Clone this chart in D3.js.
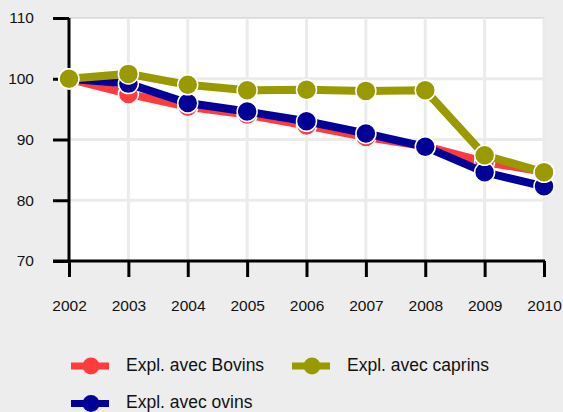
<!DOCTYPE html>
<html>
<head>
<meta charset="utf-8">
<script src="https://cdn.jsdelivr.net/npm/d3@7"></script>
<style>
  body { margin: 0; background: #ededed; }
  svg text { font-family: "Liberation Sans", Arial, sans-serif; fill: #111; }
</style>
</head>
<body>
<div id="chart"></div>
<script>
// data
const years = [2002, 2003, 2004, 2005, 2006, 2007, 2008, 2009, 2010]
const bovins = [100, 97.5, 95.4, 94.1, 92.3, 90.4, 88.9, 86.3, 84.7]
const ovins = [100, 99.2, 96.0, 94.6, 93.0, 91.0, 88.8, 84.6, 82.3]
const caprins = [100, 100.8, 99.0, 98.1, 98.2, 98.0, 98.1, 87.4, 84.6]
const yTicks = [70, 80, 90, 100, 110]

const series = [
  { name: "Expl. avec Bovins", values: bovins, color: "#ff3b3b" },
  { name: "Expl. avec ovins", values: ovins, color: "#000099" },
  { name: "Expl. avec caprins", values: caprins, color: "#999900" }
]

const W = 563, H = 412
const margin = { top: 18, right: 19, bottom: 151, left: 69 }
const width = W - margin.left - margin.right
const height = H - margin.top - margin.bottom

const svg = d3.select("#chart").append("svg")
  .attr("width", W).attr("height", H)

const g = svg.append("g")
  .attr("transform", "translate(" + margin.left + "," + margin.top + ")")

const x = d3.scaleLinear().domain([2002, 2010]).range([0, width])
const y = d3.scaleLinear().domain([70, 110]).range([height, 0])

// plot background
g.append("rect")
  .attr("width", width).attr("height", height)
  .attr("fill", "#fff")
  .attr("stroke", "#c8c8c8")
  .attr("stroke-width", 1)

// grid
g.append("g").selectAll("line")
  .data(years.slice(1))
  .join("line")
    .attr("x1", d => x(d)).attr("x2", d => x(d))
    .attr("y1", 0).attr("y2", height)
    .attr("stroke", "#ebebeb").attr("stroke-width", 3)
g.append("g").selectAll("line")
  .data(yTicks.slice(1, -1))
  .join("line")
    .attr("x1", 0).attr("x2", width)
    .attr("y1", d => y(d)).attr("y2", d => y(d))
    .attr("stroke", "#ebebeb").attr("stroke-width", 3)

// axes
const yAxis = g.append("g")
  .call(d3.axisLeft(y).tickValues(yTicks).tickSize(16).tickPadding(19).tickFormat(d3.format("d")))
const xAxis = g.append("g")
  .attr("transform", "translate(0," + height + ")")
  .call(d3.axisBottom(x).tickValues(years).tickSize(16).tickPadding(23).tickFormat(d3.format("d")))
;[yAxis, xAxis].forEach(a => {
  a.attr("font-family", null).attr("font-size", null)
  a.select(".domain").remove()
  a.selectAll(".tick line").attr("stroke", "#000").attr("stroke-width", 3)
  a.selectAll(".tick text").style("font-size", "15.5px").attr("fill", "#111")
})
g.append("line")
  .attr("x1", 0).attr("x2", 0).attr("y1", 0).attr("y2", height + 1.5)
  .attr("stroke", "#000").attr("stroke-width", 3)
g.append("line")
  .attr("x1", -16).attr("x2", width + 1).attr("y1", height).attr("y2", height)
  .attr("stroke", "#000").attr("stroke-width", 3)

// lines and markers
const line = d3.line()
  .x((d, i) => x(years[i]))
  .y(d => y(d))

series.forEach(s => {
  const sg = g.append("g")
  sg.append("path")
    .datum(s.values)
    .attr("d", line)
    .attr("fill", "none")
    .attr("stroke", s.color)
    .attr("stroke-width", 8)
  sg.selectAll("circle")
    .data(s.values)
    .join("circle")
      .attr("cx", (d, i) => x(years[i]))
      .attr("cy", d => y(d))
      .attr("r", 10)
      .attr("fill", s.color)
      .attr("stroke", "#fff")
      .attr("stroke-width", 1.5)
})

// legend
const legendOrder = [series[0], series[2], series[1]]
const legend = svg.append("g")
const item = legend.selectAll("g")
  .data(legendOrder)
  .join("g")
    .attr("transform", (d, i) => "translate(" + (71 + (i % 2) * 221) + "," + (366 + Math.floor(i / 2) * 37.5) + ")")
item.append("line")
  .attr("x1", 0).attr("x2", 38).attr("y1", 0).attr("y2", 0)
  .attr("stroke", d => d.color).attr("stroke-width", 7)
item.append("circle")
  .attr("cx", 20).attr("cy", 0).attr("r", 8.5)
  .attr("fill", d => d.color)
item.append("text")
  .attr("x", 55).attr("y", 4.7)
  .style("font-size", "17.5px")
  .text(d => d.name)
</script>
</body>
</html>
